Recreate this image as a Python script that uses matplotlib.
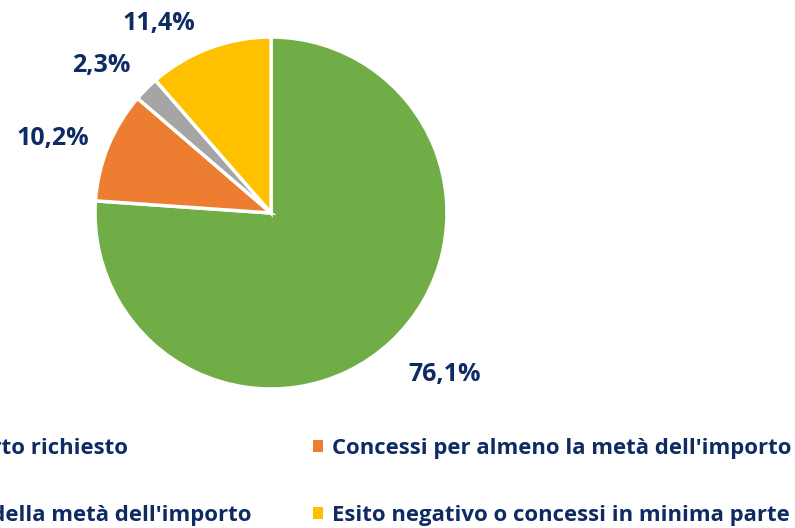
import matplotlib
matplotlib.use("Agg")
import matplotlib.pyplot as plt
from matplotlib.patches import Patch
import numpy as np

categories = [
    "Concessi per l'importo richiesto",
    "Concessi per almeno la metà dell'importo",
    "Concessi per meno della metà dell'importo",
    "Esito negativo o concessi in minima parte",
]
values = [76.1, 10.2, 2.3, 11.4]
value_labels = ["76,1%", "10,2%", "2,3%", "11,4%"]
colors = ["#70AD47", "#ED7D31", "#A5A5A5", "#FFC000"]

# label placement (style): angle offsets (deg) and radial distance
label_angle_shift = [4, 3.53, 3.77, 10.07]
label_dist = [1.345, 1.312, 1.276, 1.249]

text_color = "#0F2B63"
plt.rcParams['font.family'] = ['Open Sans', 'DejaVu Sans']

W, H = 795, 528
fig = plt.figure(figsize=(W / 100, H / 100), dpi=100)
cx, cy, r = 271, 213, 176
ax = fig.add_axes([(cx - r) / W, (H - cy - r) / H, 2 * r / W, 2 * r / H])
wedges, _ = ax.pie(values, colors=colors, startangle=90, counterclock=False,
                   radius=1, wedgeprops=dict(edgecolor="white", linewidth=2.5))
ax.set_xlim(-1, 1)
ax.set_ylim(-1, 1)
ax.set_aspect('equal')
ax.axis('off')

for w, lab, sh, d in zip(wedges, value_labels, label_angle_shift, label_dist):
    ang = np.deg2rad((w.theta1 + w.theta2) / 2 + sh)
    ax.text(d * np.cos(ang), d * np.sin(ang), lab, ha='center', va='center',
            fontsize=18, fontweight='bold', color=text_color, clip_on=False)

order = [0, 2, 1, 3]
handles = [Patch(facecolor=colors[i], edgecolor='none') for i in order]
labels = [categories[i] for i in order]
leg = fig.legend(handles, labels, ncol=2, loc='upper right',
                 bbox_to_anchor=(792 / W, 1 - 438 / H), frameon=False,
                 prop=dict(size=15.9, weight='bold'),
                 handlelength=0.45, handleheight=0.45,
                 handletextpad=0.45, columnspacing=2.78, labelspacing=2.08,
                 borderpad=0, borderaxespad=0)
for t in leg.get_texts():
    t.set_color(text_color)

fig.savefig("out.png", dpi=100)
